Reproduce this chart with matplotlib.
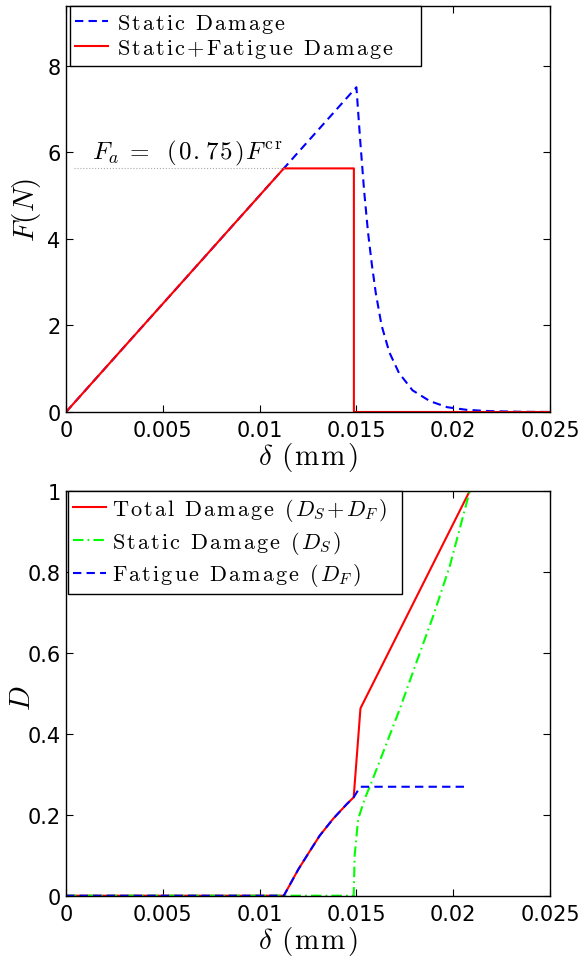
import matplotlib
matplotlib.use("Agg")
import matplotlib.pyplot as plt

plt.rcParams['font.family'] = ['DejaVu Sans']
plt.rcParams['mathtext.fontset'] = 'cm'

# ---- data: top panel (force vs displacement) ----
static_x = [0, 0.0150, 0.0152, 0.0154, 0.0156, 0.0158, 0.0160, 0.0163, 0.0167,
            0.0172, 0.0179, 0.0188, 0.0197, 0.0207, 0.0219, 0.0235, 0.025]
static_F = [0, 7.5, 6.25, 5.1, 4.15, 3.4, 2.75, 2.0, 1.38,
            0.9, 0.5, 0.25, 0.11, 0.05, 0.02, 0.005, 0.001]
fat_x = [0, 0.01125, 0.01487, 0.01487, 0.025]
fat_F = [0, 5.625, 5.625, 0, 0]
Fa_level = 5.625
Fa_x = [0.0004, 0.01125]

# ---- data: bottom panel (damage vs displacement) ----
total_x = [0, 0.01125, 0.0120, 0.0125, 0.0131, 0.0138, 0.0145, 0.01486, 0.01521, 0.02086]
total_D = [0, 0, 0.065, 0.103, 0.148, 0.19, 0.226, 0.243, 0.4626, 1.0]
ds_x = [0, 0.01486, 0.01491, 0.01509, 0.01543, 0.01578, 0.01638, 0.01724, 0.0181,
        0.01897, 0.01983, 0.02086]
ds_D = [0, 0, 0.099, 0.189, 0.239, 0.28, 0.354, 0.461, 0.576, 0.691, 0.815, 1.0]
df_x = [0, 0.01125, 0.0120, 0.0125, 0.0131, 0.0138, 0.0145, 0.01486, 0.0152, 0.0208]
df_D = [0, 0, 0.065, 0.103, 0.148, 0.19, 0.226, 0.243, 0.269, 0.269]

xticks = [0, 0.005, 0.01, 0.015, 0.02, 0.025]
xticklabels = ['0', '0.005', '0.01', '0.015', '0.02', '0.025']
yticks_top = [0, 2, 4, 6, 8]
yticks_bot = [0, 0.2, 0.4, 0.6, 0.8, 1]
yticklabels_bot = ['0', '0.2', '0.4', '0.6', '0.8', '1']

TRACK = 0.11


def tokens_rm(s):
    out = []
    for ch in s:
        if ch == ' ':
            out.append(r'\ ')
        elif ch == '+':
            out.append('{+}')
        else:
            out.append(r'\mathrm{%s}' % ch)
    return out


def tracked(tokens, sp=TRACK):
    return '$' + (r'\hspace{%g}' % sp).join(tokens) + '$'


lab_static = tracked(tokens_rm('Static Damage'))
lab_statfat = tracked(tokens_rm('Static+Fatigue Damage'))
lab_total = tracked(tokens_rm('Total Damage ') + ['(', 'D_S', '{+}', 'D_F', ')'])
lab_ds = tracked(tokens_rm('Static Damage ') + ['(', 'D_S', ')'])
lab_df = tracked(tokens_rm('Fatigue Damage ') + ['(', 'D_F', ')'])
annot = (r'$F_a\hspace{0.3}{=}\hspace{0.6}(\hspace{0.08}0\hspace{0.08}.\hspace{0.08}'
         r'7\hspace{0.08}5\hspace{0.08})\hspace{0.08}F^{\mathrm{c\hspace{0.15}r}}$')
xlab = r'$\delta\hspace{0.4}(\hspace{0.08}\mathrm{m}\hspace{0.08}\mathrm{m}\hspace{0.08})$'

fig = plt.figure(figsize=(5.85, 9.62), dpi=100)
ax1 = fig.add_axes([66/585, (962-413)/962, 484/585, 406/962])
ax2 = fig.add_axes([66/585, (962-896.7)/962, 484/585, 405/962])

lw = 1.5
dash = (4, 2.5)
dashdot = (5, 2, 0.8, 2)


def style(ax):
    ax.set_xlim(0, 0.025)
    ax.set_xticks(xticks)
    ax.set_xticklabels(xticklabels)
    ax.tick_params(direction='in', length=5, width=0.8, top=True, right=True,
                   labelsize=15, pad=6)
    ax.tick_params(axis='y', pad=4)
    for s in ax.spines.values():
        s.set_linewidth(1.0)
    ax.set_xlabel(xlab, fontsize=21, labelpad=0)


# top panel
ax1.plot(static_x, static_F, color='#0000ff', lw=lw, dashes=dash, label=lab_static)
ax1.plot(fat_x, fat_F, color='#ff0000', lw=lw, label=lab_statfat)
ax1.plot(Fa_x, [Fa_level, Fa_level], color='#aaaaaa', lw=0.8, ls=':')
ax1.text(0.00133, 5.86, annot, fontsize=18, va='baseline', ha='left')
style(ax1)
ax1.set_ylim(0, 9.375)
ax1.set_yticks(yticks_top)
ax1.set_ylabel(r'$F(N)$', fontsize=21)
ax1.yaxis.set_label_coords(-0.048, 0.5)
leg1 = ax1.legend(loc='upper left', bbox_to_anchor=(0.008, 0.0, 351/484, 1.0),
                  mode='expand', borderaxespad=0,
                  fontsize=16, handlelength=1.45, handletextpad=0.4,
                  borderpad=0.25, labelspacing=0.12, fancybox=False,
                  edgecolor='black', framealpha=1)
leg1.get_frame().set_linewidth(1.0)

# bottom panel
ax2.plot(total_x, total_D, color='#ff0000', lw=lw, label=lab_total)
ax2.plot(ds_x, ds_D, color='#00ff00', lw=lw, dashes=dashdot, label=lab_ds)
ax2.plot(df_x, df_D, color='#0000ff', lw=lw, dashes=dash, label=lab_df)
style(ax2)
ax2.set_ylim(0, 1)
ax2.set_yticks(yticks_bot)
ax2.set_yticklabels(yticklabels_bot)
ax2.set_ylabel(r'$D$', fontsize=21)
ax2.yaxis.set_label_coords(-0.062, 0.49)
leg2 = ax2.legend(loc='upper left', bbox_to_anchor=(0.004, 0.0, 334/484, 1.0),
                  mode='expand', borderaxespad=0,
                  fontsize=16, handlelength=1.45, handletextpad=0.3,
                  borderpad=0.25, labelspacing=0.25, fancybox=False,
                  edgecolor='black', framealpha=1)
leg2.get_frame().set_linewidth(1.0)

fig.savefig('out.png', dpi=100)
